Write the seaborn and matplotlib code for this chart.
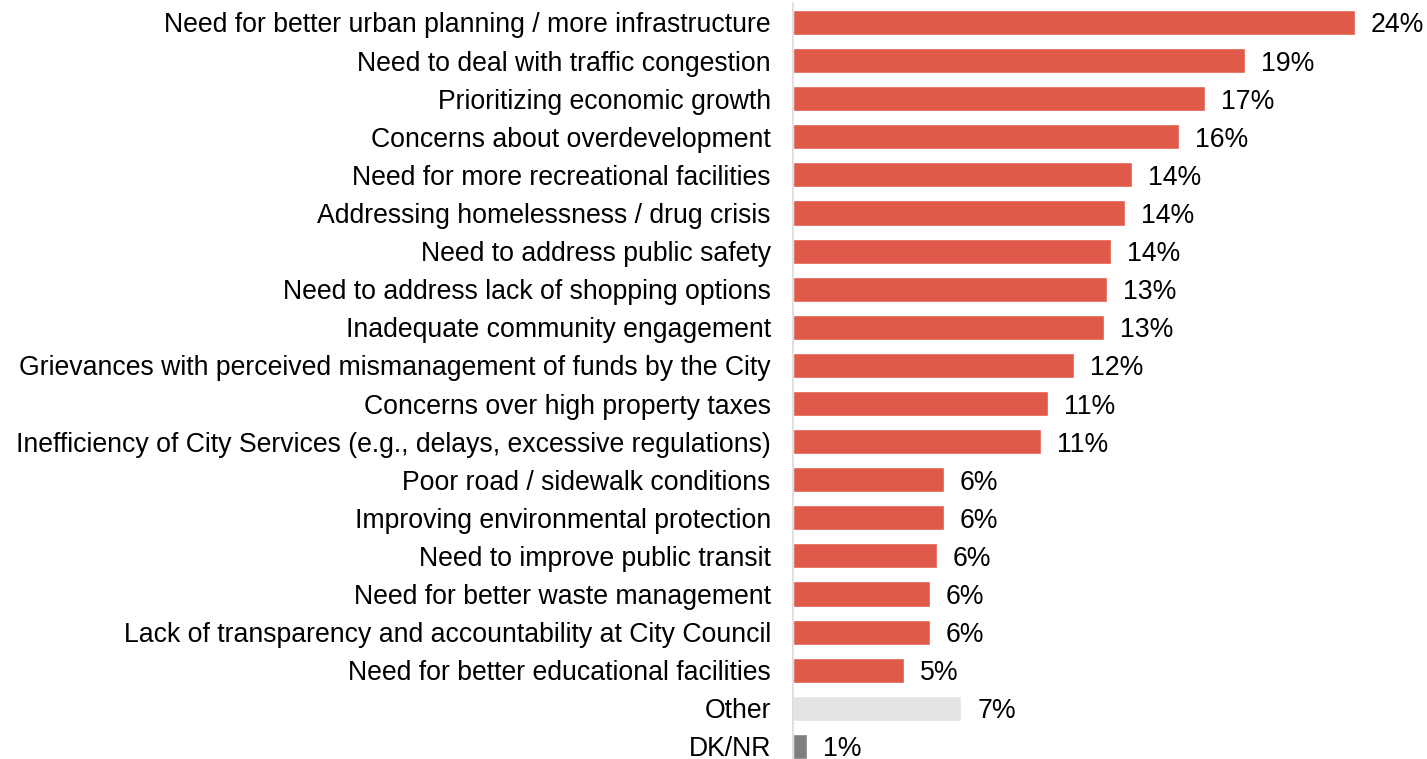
import numpy as np
import pandas as pd
import matplotlib
matplotlib.use('Agg')
import matplotlib.pyplot as plt
import seaborn as sns

categories = [
    'Need for better urban planning / more infrastructure',
    'Need to deal with traffic congestion',
    'Prioritizing economic growth',
    'Concerns about overdevelopment',
    'Need for more recreational facilities',
    'Addressing homelessness / drug crisis',
    'Need to address public safety',
    'Need to address lack of shopping options',
    'Inadequate community engagement',
    'Grievances with perceived mismanagement of funds by the City',
    'Concerns over high property taxes',
    'Inefficiency of City Services (e.g., delays, excessive regulations)',
    'Poor road / sidewalk conditions',
    'Improving environmental protection',
    'Need to improve public transit',
    'Need for better waste management',
    'Lack of transparency and accountability at City Council',
    'Need for better educational facilities',
    'Other',
    'DK/NR',
]
# shares (percent)
values = [24.0, 19.3, 17.6, 16.5, 14.5, 14.2, 13.6, 13.4, 13.3, 12.0,
          10.9, 10.6, 6.45, 6.45, 6.15, 5.85, 5.85, 4.74, 7.2, 0.6]
# printed labels
labels = [24, 19, 17, 16, 14, 14, 14, 13, 13, 12,
          11, 11, 6, 6, 6, 6, 6, 5, 7, 1]

RED = '#e05a4a'
bar_colors = [RED] * 18 + ['#e3e3e3', '#7f7f7f']

df = pd.DataFrame({'category': categories, 'value': values})

sns.set_style('white')
plt.rcParams['font.family'] = ['Liberation Sans', 'DejaVu Sans']

W, H = 1427, 759
fig = plt.figure(figsize=(W / 100, H / 100), dpi=100)
# axes placed in pixel terms: spine at x=793, row pitch ~38.1 px
pitch = 38.1
top_px = 22.5 - pitch / 2
bot_px = top_px + pitch * len(categories)
ax = fig.add_axes([793 / W, 1 - bot_px / H, 632 / W, (bot_px - top_px) / H])

sns.barplot(data=df, x='value', y='category', hue='category',
            palette=bar_colors, legend=False, width=0.66,
            saturation=1, orient='h', ax=ax)

ax.set_xlim(0, 632 / 23.4)
ax.set_ylim(len(categories) - 0.5, -0.5)

for i, (v, lab) in enumerate(zip(values, labels)):
    ax.text(v + 16 / 23.4, i, f'{lab}%', va='center_baseline', ha='left',
            fontsize=19.2, color='#000000')

ax.set_xlabel('')
ax.set_ylabel('')
ax.set_xticks([])
ax.tick_params(axis='y', length=0, pad=16, labelsize=19.2, labelcolor='#000000')
for s in ['top', 'right', 'bottom']:
    ax.spines[s].set_visible(False)
ax.spines['left'].set_color('#d9d9d9')
ax.spines['left'].set_linewidth(1.2)

fig.savefig('out.png', dpi=100, facecolor='white')
